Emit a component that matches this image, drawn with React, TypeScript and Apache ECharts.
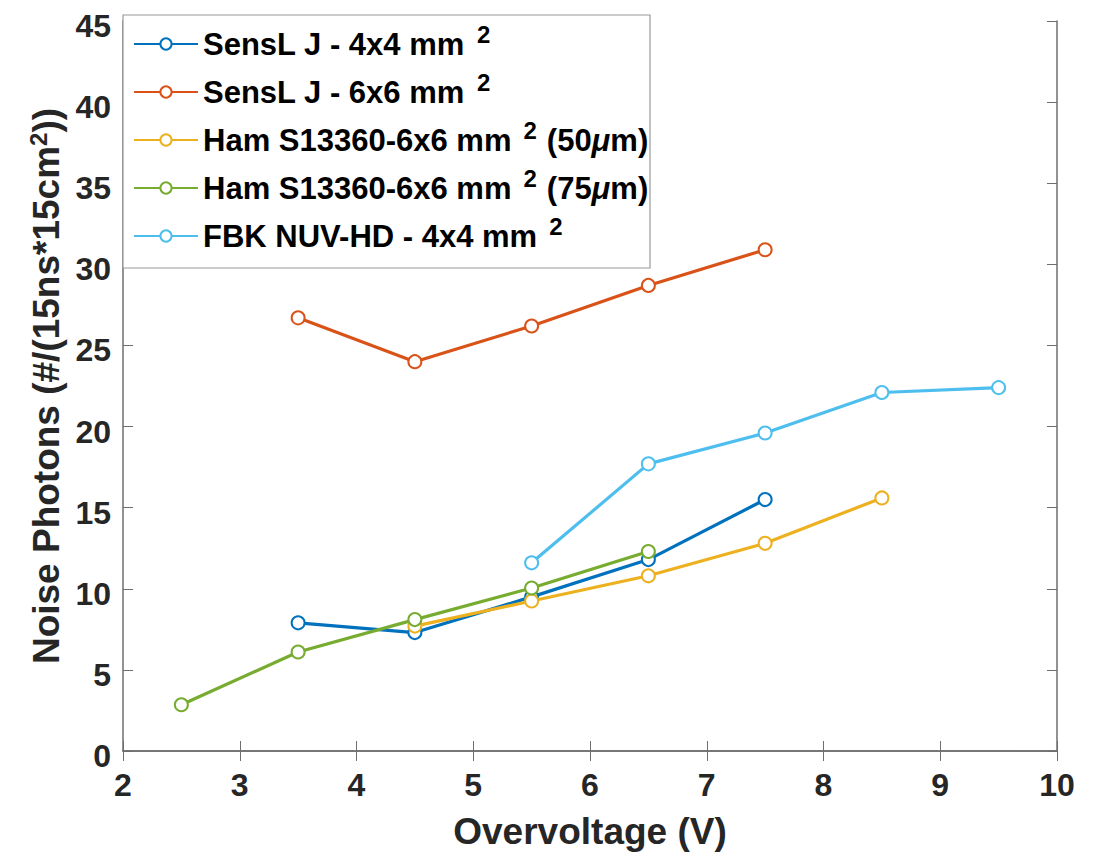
import React, { useEffect, useRef } from "react";
import * as echarts from "echarts";

const overvoltage = [2.5, 3.5, 4.5, 5.5, 6.5, 7.5, 8.5, 9.5];
const sensl4x4 = [null, 7.9, 7.3, 9.5, 11.8, 15.5, null, null];
const sensl6x6 = [null, 26.7, 24.0, 26.2, 28.7, 30.9, null, null];
const ham50 = [null, null, 7.7, 9.25, 10.8, 12.8, 15.6, null];
const ham75 = [2.85, 6.1, 8.1, 10.05, 12.3, null, null, null];
const fbk = [null, null, null, 11.6, 17.7, 19.6, 22.1, 22.4];

const seriesNames = [
  "SensL J - 4x4 mm2",
  "SensL J - 6x6 mm2",
  "Ham S13360-6x6 mm2 (50um)",
  "Ham S13360-6x6 mm2 (75um)",
  "FBK NUV-HD - 4x4 mm2",
];
const legendRich: Record<string, string> = {
  "SensL J - 4x4 mm2": "{a|SensL J - 4x4 mm}{s|2}",
  "SensL J - 6x6 mm2": "{a|SensL J - 6x6 mm}{s|2}",
  "Ham S13360-6x6 mm2 (50um)": "{a|Ham S13360-6x6 mm}{s|2}{a|(50}{m|μ}{a|m)}",
  "Ham S13360-6x6 mm2 (75um)": "{a|Ham S13360-6x6 mm}{s|2}{a|(75}{m|μ}{a|m)}",
  "FBK NUV-HD - 4x4 mm2": "{a|FBK NUV-HD - 4x4 mm}{s|2}",
};
const seriesValues = [sensl4x4, sensl6x6, ham50, ham75, fbk];
const colors = ["#0072BD", "#D95319", "#EDB120", "#77AC30", "#4DBEEE"];
const xTicks = [2, 3, 4, 5, 6, 7, 8, 9, 10];
const yTicks = [0, 5, 10, 15, 20, 25, 30, 35, 40, 45];

const FONT = "'Liberation Sans', Arial, Helvetica, sans-serif";
const AXIS_COLOR = "#6e6e6e";
const TEXT_COLOR = "#262626";

export default function App() {
  const ref = useRef<HTMLDivElement>(null);
  useEffect(() => {
    if (!ref.current) return;
    const chart = echarts.init(ref.current, undefined, { renderer: "svg" });
    const series = seriesValues.map((vals, i) => ({
      name: seriesNames[i],
      type: "line",
      data: overvoltage
        .map((x, j) => [x, vals[j]])
        .filter((p) => p[1] !== null),
      symbol: "emptyCircle",
      symbolSize: 13,
      color: colors[i],
      lineStyle: { width: 3.2, color: colors[i] },
      itemStyle: { color: colors[i], borderColor: colors[i], borderWidth: 3 },
      xAxisIndex: 0,
      yAxisIndex: 0,
      z: 3 + i,
    }));
    const tickAxisCommon = {
      axisLine: { show: true, lineStyle: { color: AXIS_COLOR, width: 1.5 } },
      axisTick: { show: true, inside: true, length: 10, lineStyle: { color: AXIS_COLOR, width: 1 } },
      splitLine: { show: false },
    };
    chart.setOption({
      animation: false,
      backgroundColor: "#ffffff",
      grid: { left: 123, right: 45, top: 15, bottom: 105, containLabel: false },
      xAxis: [
        {
          type: "value",
          min: 2,
          max: 10,
          interval: 1,
          position: "bottom",
          ...tickAxisCommon,
          axisLabel: {
            show: true,
            color: TEXT_COLOR,
            fontFamily: FONT,
            fontWeight: "bold",
            fontSize: 32,
            margin: 18,
            formatter: (v: number) => (xTicks.includes(v) ? String(v) : ""),
          },
          name: "Overvoltage (V)",
          nameLocation: "middle",
          nameGap: 62,
          nameTextStyle: { color: TEXT_COLOR, fontFamily: FONT, fontWeight: "bold", fontSize: 37 },
        },
        {
          type: "value",
          min: 2,
          max: 10,
          interval: 1,
          position: "top",
          ...tickAxisCommon,
          axisLabel: { show: false },
        },
      ],
      yAxis: [
        {
          type: "value",
          min: 0,
          max: 45,
          interval: 5,
          position: "left",
          ...tickAxisCommon,
          axisLabel: {
            show: true,
            margin: 12,
            formatter: (v: number) => (yTicks.includes(v) ? `{v|${v}}` : ""),
            rich: {
              v: {
                color: TEXT_COLOR,
                fontFamily: FONT,
                fontWeight: "bold",
                fontSize: 32,
                lineHeight: 30,
                padding: [10, 0, 0, 0],
              },
            },
          },
          name: "{a|Noise Photons (#/(15ns*15cm}{s|2}{a|))}",
          nameLocation: "middle",
          nameGap: 54,
          nameRotate: 90,
          nameTextStyle: {
            rich: {
              a: { color: TEXT_COLOR, fontFamily: FONT, fontWeight: "bold", fontSize: 37, lineHeight: 42 },
              s: { color: TEXT_COLOR, fontFamily: FONT, fontWeight: "bold", fontSize: 24, padding: [0, 0, 16, 0] },
            },
          },
        },
        {
          type: "value",
          min: 0,
          max: 45,
          interval: 5,
          position: "right",
          ...tickAxisCommon,
          axisLabel: { show: false },
        },
      ],
      legend: {
        show: true,
        orient: "vertical",
        left: 133,
        top: 22,
        itemWidth: 64,
        itemHeight: 14,
        itemGap: 10.5,
        padding: 0,
        data: seriesNames,
        formatter: (name: string) => legendRich[name],
        textStyle: {
          rich: {
            a: { color: "#000", fontFamily: FONT, fontWeight: "bold", fontSize: 31, lineHeight: 36 },
            s: { color: "#000", fontFamily: FONT, fontWeight: "bold", fontSize: 24, padding: [0, 10, 20, 12] },
            m: { color: "#000", fontFamily: FONT, fontWeight: "bold", fontStyle: "italic", fontSize: 31, lineHeight: 36 },
          },
        },
      },
      graphic: [
        {
          type: "rect",
          shape: { x: 123, y: 15, width: 527, height: 253 },
          style: { fill: "#ffffff", stroke: "#9a9a9a", lineWidth: 1.2 },
          z: 1,
          silent: true,
        },
      ],
      series,
    });
    return () => chart.dispose();
  }, []);
  return (
    <div
      ref={ref}
      style={{ width: 1102, height: 856, position: "relative", top: -8, left: -8 }}
    />
  );
}
